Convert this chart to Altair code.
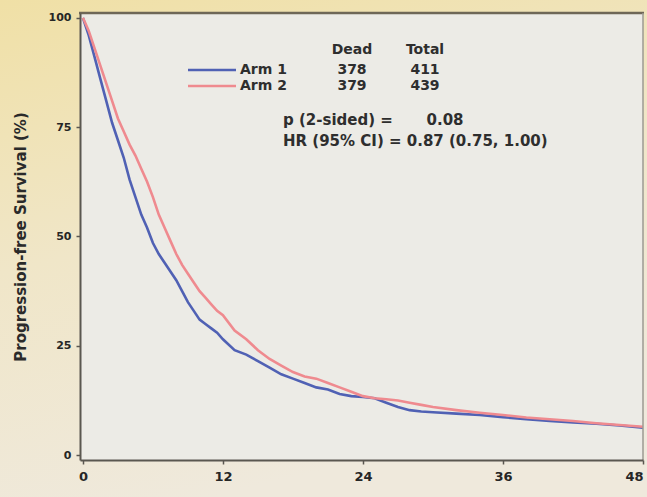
import altair as alt
import pandas as pd

# ---- data ----
months = [0, 0.5, 1, 1.5, 2, 2.5, 3, 3.5, 4, 4.5, 5, 5.5, 6, 6.5, 7, 7.5, 8, 8.5, 9, 9.5,
          10, 10.5, 11, 11.5, 12,
          13, 14, 15, 16, 17, 18, 19, 20, 21, 22, 23, 24, 25, 26, 27, 28, 29, 30,
          32, 34, 36, 38, 40, 42, 44, 46, 48]
arm1_pfs = [100, 96, 91, 86, 81, 76, 72, 68, 63, 59, 55, 52, 48.5, 46, 44, 42, 40, 37.5, 35, 33,
            31, 30, 29, 28, 26.5,
            24, 23, 21.5, 20, 18.5, 17.5, 16.5, 15.5, 15, 14, 13.5, 13.3, 13, 12, 11, 10.3, 10, 9.8,
            9.5, 9.2, 8.7, 8.2, 7.8, 7.5, 7.2, 6.8, 6.3]
arm2_pfs = [100, 97, 93, 89, 85, 81, 77, 74, 71, 68.5, 65.5, 62.5, 59, 55, 52, 49, 46, 43.5, 41.5, 39.5,
            37.5, 36, 34.5, 33, 32,
            28.5, 26.5, 24, 22, 20.5, 19, 18, 17.5, 16.5, 15.5, 14.5, 13.5, 13, 12.8, 12.5, 12, 11.5, 11,
            10.3, 9.7, 9.2, 8.6, 8.2, 7.8, 7.3, 6.9, 6.5]
arm_names = ["Arm 1", "Arm 2"]
dead = [378, 379]
total = [411, 439]
p_label = "p (2-sided) ="
p_value = "0.08"
hr_label = "HR (95% CI) = 0.87 (0.75, 1.00)"
x_ticks = [0, 12, 24, 36, 48]
y_ticks = [0, 25, 50, 75, 100]
y_title = "Progression-free Survival (%)"

arm_colors = ["#5061b4", "#ef8a8f"]

W, H = 563, 447
PL, PT = 80, 13
FONT = "DejaVu Sans"

rows = []
for t, a, b in zip(months, arm1_pfs, arm2_pfs):
    rows.append({"month": t, "pfs": a, "arm": arm_names[0]})
    rows.append({"month": t, "pfs": b, "arm": arm_names[1]})
df = pd.DataFrame(rows)
one = pd.DataFrame({"k": [0]})

bg = alt.Chart(one).mark_rect(
    clip=False,
    fill={"gradient": "linear", "x1": 0, "y1": 0, "x2": 0.3, "y2": 1,
          "stops": [{"offset": 0, "color": "#f0e0a6"},
                    {"offset": 0.5, "color": "#f0e6c8"},
                    {"offset": 1, "color": "#efe9dc"}]},
).encode(x=alt.value(-PL), x2=alt.value(W + 10), y=alt.value(-PT), y2=alt.value(H + 40))

plotbg = alt.Chart(one).mark_rect(fill="#ecebe6").encode(
    x=alt.value(0), x2=alt.value(W), y=alt.value(0), y2=alt.value(H))

lines = alt.Chart(df).mark_line(strokeWidth=2.6, clip=True).encode(
    x=alt.X("month:Q", scale=alt.Scale(domain=[-0.25, 48], nice=False, zero=False),
            axis=alt.Axis(values=x_ticks, title=None, zindex=1, grid=False)),
    y=alt.Y("pfs:Q", scale=alt.Scale(domain=[-1.1, 101.1], nice=False, zero=False),
            axis=alt.Axis(values=y_ticks, title=y_title, zindex=1, grid=False,
                          titleX=-60, titleY=H / 2, titleAngle=270,
                          titleAlign="center", titleBaseline="middle")),
    color=alt.Color("arm:N", scale=alt.Scale(domain=arm_names, range=arm_colors), legend=None),
    order=alt.Order("month:Q"),
)

top_rule = alt.Chart(one).mark_rule(color="#6e6757", strokeWidth=2.5, clip=False).encode(
    x=alt.value(-1), x2=alt.value(W + 1), y=alt.value(0))
right_rule = alt.Chart(one).mark_rule(color="#9c9a92", strokeWidth=1.5, clip=False).encode(
    x=alt.value(W), y=alt.value(0), y2=alt.value(H))

# legend block (positions relative to plot area)
txt_color = "#2e2e2e"
legend_layers = []


def txt(s, x, y, align="left", size=15):
    return alt.Chart(one).mark_text(
        align=align, baseline="middle", font=FONT, fontSize=size,
        fontWeight="bold", color=txt_color, clip=False
    ).encode(x=alt.value(x - PL), y=alt.value(y - PT), text=alt.value(s))


legend_layers.append(txt("Dead", 352, 50, "center", 14))
legend_layers.append(txt("Total", 425, 50, "center", 14))
row_y = [70, 86]
for i in range(2):
    legend_layers.append(
        alt.Chart(one).mark_rule(color=arm_colors[i], strokeWidth=2.6, clip=False).encode(
            x=alt.value(188 - PL), x2=alt.value(236 - PL), y=alt.value(row_y[i] - PT)))
    legend_layers.append(txt(arm_names[i], 240, row_y[i], size=14))
    legend_layers.append(txt(str(dead[i]), 352, row_y[i], "center", 14))
    legend_layers.append(txt(str(total[i]), 425, row_y[i], "center", 14))
legend_layers.append(txt(p_label, 283, 120))
legend_layers.append(txt(p_value, 445, 120, "center"))
legend_layers.append(txt(hr_label, 283, 141))

chart = alt.layer(bg, plotbg, lines, top_rule, right_rule, *legend_layers).properties(
    width=W, height=H,
    autosize=alt.AutoSizeParams(type="none"),
    padding={"left": PL, "top": PT, "right": 647 - PL - W, "bottom": 497 - PT - H},
).configure_view(stroke=None).configure(background="#efe6cc").configure_axis(
    domainColor="#5a5750", domainWidth=2, tickColor="#5a5750", tickWidth=1.5, tickSize=4,
    labelFont=FONT, labelFontWeight="bold", labelFontSize=11, labelColor="#262626",
    labelPadding=5, titleFont=FONT, titleFontWeight="bold", titleFontSize=15,
    titleColor="#2a2a2a",
).configure_axisX(labelFontSize=13, labelPadding=6)

chart.save("out.html", embed_options={"renderer": "svg", "actions": False})
